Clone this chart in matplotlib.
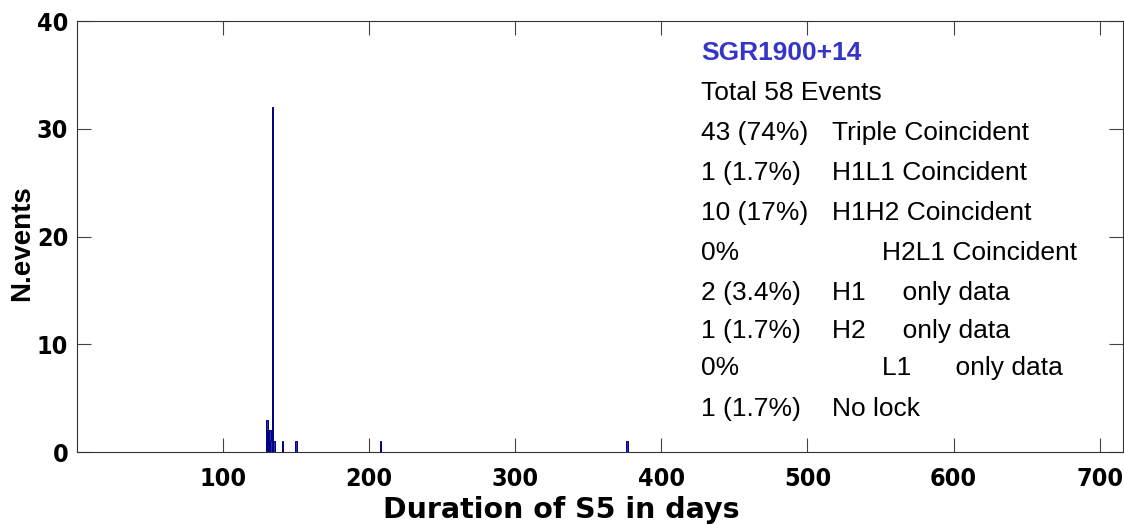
import matplotlib
matplotlib.use("Agg")
import matplotlib.pyplot as plt

# histogram of events versus day of S5
days = [129.7, 130.3, 131.0, 131.7, 132.3, 133.0, 133.8, 134.5, 135.1, 141.0, 150.0, 207.7, 376.5]
counts = [2, 3, 2, 2, 2, 1, 32, 1, 1, 1, 1, 1, 1]

title = "SGR1900+14"
total_line = "Total 58 Events"
col1 = ["43 (74%)", "1 (1.7%)", "10 (17%)", "0%", "2 (3.4%)", "1 (1.7%)", "0%", "1 (1.7%)"]
col2 = ["Triple Coincident", "H1L1 Coincident", "H1H2 Coincident", "H2L1 Coincident",
        "H1     only data", "H2     only data", "L1      only data", "No lock"]

xticks = [100, 200, 300, 400, 500, 600, 700]
yticks = [0, 10, 20, 30, 40]

plt.rcParams['font.family'] = ['Liberation Sans', 'DejaVu Sans']

fig = plt.figure(figsize=(11.24, 5.24), dpi=100)
ax = fig.add_axes([0.0682, 0.1374, 0.931, 0.8225])

ax.bar(days, counts, width=0.9, color='#2a2ac0', edgecolor='#000080', linewidth=0.7)

ax.set_xlim(0, 716)
ax.set_ylim(0, 40)
ax.set_xticks(xticks)
ax.set_yticks(yticks)
ax.tick_params(direction='in', length=10, width=0.8, color='#444444',
               top=True, right=True)
ax.tick_params(axis='x', pad=11)
ax.tick_params(axis='y', pad=6)
for lab in ax.get_xticklabels() + ax.get_yticklabels():
    lab.set_fontfamily('DejaVu Sans')
    lab.set_fontstretch('condensed')
    lab.set_fontweight('bold')
    lab.set_fontsize(18)
for s in ax.spines.values():
    s.set_color('#333333')
    s.set_linewidth(0.8)

ax.set_xlabel("Duration of S5 in days", fontsize=20.5, fontweight='bold',
              family='DejaVu Sans')
ax.xaxis.set_label_coords(0.463, -0.103)
ax.set_ylabel("N.events", fontsize=20, fontweight='bold')
ax.yaxis.set_label_coords(-0.04, 0.485)

# legend-like annotations (axes coords)
x0, x1 = 0.597, 0.7216
ys = [0.7239, 0.6311, 0.5383, 0.4455, 0.3527, 0.2645, 0.1787, 0.0835]
ax.text(x0, 0.9095, title, transform=ax.transAxes, fontsize=19, fontweight='bold',
        color='#3535c8', va='baseline')
ax.text(x0, 0.8167, total_line, transform=ax.transAxes, fontsize=19, va='baseline')
for i, (a, b) in enumerate(zip(col1, col2)):
    ax.text(x0, ys[i], a, transform=ax.transAxes, fontsize=19, va='baseline')
    xb = 0.7694 if a == "0%" else x1
    ax.text(xb, ys[i], b, transform=ax.transAxes, fontsize=19, va='baseline')

fig.savefig("out.png", dpi=100)
